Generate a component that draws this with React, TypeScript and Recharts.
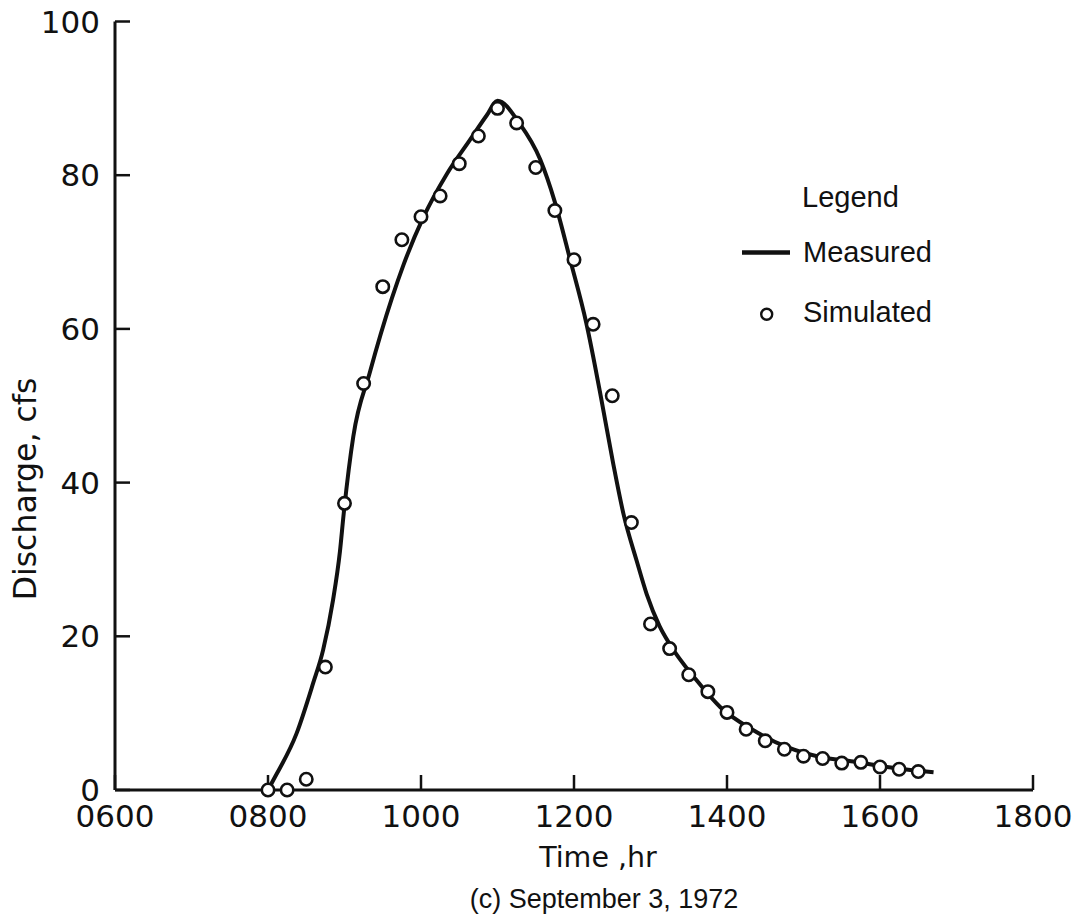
import React from 'react';
import { ComposedChart, Line, Scatter, XAxis, YAxis, Legend, Label } from 'recharts';

// Measured hydrograph (hours, cfs)
const measuredTime = [8.0, 8.07, 8.375, 8.59, 8.72, 8.85, 8.94, 8.99, 9.115, 9.33, 9.62, 9.77, 10.03, 10.34, 10.64, 10.86, 11.0, 11.29, 11.56, 11.75, 11.95, 12.16, 12.36, 12.51, 12.645, 12.82, 12.95, 13.12, 13.25, 13.6, 13.91, 14.34, 14.78, 15.22, 15.65, 16.09, 16.7];
const measuredQ = [0, 1.3, 7.4, 13.9, 18.2, 24.7, 31.0, 36.0, 46.0, 54.3, 64.0, 68.3, 74.5, 80.2, 84.6, 87.8, 89.7, 86.7, 82.0, 76.5, 69.0, 60.8, 50.7, 42.6, 36.0, 29.8, 25.5, 21.3, 19.0, 14.3, 10.8, 7.8, 5.6, 4.3, 3.7, 3.0, 2.3];

// Simulated hydrograph, every 15 minutes
const simulatedTime = [8.0, 8.25, 8.5, 8.75, 9.0, 9.25, 9.5, 9.75, 10.0, 10.25, 10.5, 10.75, 11.0, 11.25, 11.5, 11.75, 12.0, 12.25, 12.5, 12.75, 13.0, 13.25, 13.5, 13.75, 14.0, 14.25, 14.5, 14.75, 15.0, 15.25, 15.5, 15.75, 16.0, 16.25, 16.5];
const simulatedQ = [0, 0, 1.4, 16.0, 37.3, 52.9, 65.5, 71.6, 74.6, 77.3, 81.5, 85.1, 88.7, 86.8, 81.0, 75.4, 69.0, 60.6, 51.3, 34.8, 21.6, 18.4, 15.0, 12.8, 10.1, 7.9, 6.4, 5.3, 4.4, 4.1, 3.5, 3.6, 3.0, 2.7, 2.4];

const xTicks = [6, 8, 10, 12, 14, 16, 18];
const xTickLabels = ['0600', '0800', '1000', '1200', '1400', '1600', '1800'];
const yTicks = [0, 20, 40, 60, 80, 100];

const measuredData = measuredTime.map((t, i) => ({ t, q: measuredQ[i] }));
const simulatedData = simulatedTime.map((t, i) => ({ t, q: simulatedQ[i] }));

const INK = '#111';
const TICK_FONT = '"DejaVu Sans", sans-serif';
const TEXT_FONT = '"Liberation Sans", Arial, sans-serif';

const SimCircle = (props: any) => {
  const { cx, cy } = props;
  if (cx == null || cy == null) return null;
  return <circle cx={cx} cy={cy} r={6.2} fill="#fff" stroke={INK} strokeWidth={2.6} />;
};

const renderLegend = (props: any) => {
  const payload = props.payload || [];
  const lineItem = payload.find((p: any) => p.type === 'line') || { value: 'Measured' };
  const scatItem = payload.find((p: any) => p.type !== 'line') || { value: 'Simulated' };
  return (
    <svg width={260} height={170} style={{ display: 'block' }}>
      <text x={67} y={37} fontFamily={TEXT_FONT} fontSize={29} fill={INK}>Legend</text>
      <line x1={7} x2={55} y1={82.5} y2={82.5} stroke={INK} strokeWidth={4.5} />
      <text x={68} y={92} fontFamily={TEXT_FONT} fontSize={29} fill={INK}>{lineItem.value}</text>
      <circle cx={31.7} cy={144.3} r={5.5} fill="#fff" stroke={INK} strokeWidth={2.4} />
      <text x={68} y={152} fontFamily={TEXT_FONT} fontSize={29} fill={INK}>{scatItem.value}</text>
    </svg>
  );
};

export default function App() {
  return (
    <div style={{ position: 'absolute', left: 0, top: 0, width: 1091, height: 919, background: '#fff' }}>
      <ComposedChart width={1091} height={919} margin={{ top: 21.5, right: 58, bottom: 73, left: 0 }}>
        <XAxis
          type="number"
          dataKey="t"
          domain={[6, 18]}
          ticks={xTicks}
          allowDataOverflow
          height={56}
          tickFormatter={(v: number) => xTickLabels[xTicks.indexOf(v)] ?? String(v)}
          axisLine={{ stroke: INK, strokeWidth: 3 }}
          tickLine={{ stroke: INK, strokeWidth: 2.5 }}
          tickSize={-15}
          tickMargin={30}
          tick={{ fill: INK, fontSize: 31, fontFamily: TICK_FONT }}
        >
          <Label
            content={() => (
              <g>
                <text x={598} y={867} textAnchor="middle" fontFamily={TICK_FONT} fontSize={28.5} fill={INK}>Time ,hr</text>
                <text x={604} y={908} textAnchor="middle" fontFamily={TEXT_FONT} fontSize={27} fill={INK}>(c) September 3, 1972</text>
              </g>
            )}
          />
        </XAxis>
        <YAxis
          type="number"
          dataKey="q"
          domain={[0, 100]}
          ticks={yTicks}
          width={115}
          axisLine={{ stroke: INK, strokeWidth: 3 }}
          tickLine={{ stroke: INK, strokeWidth: 2.5 }}
          tickSize={-15}
          tickMargin={30}
          tick={{ fill: INK, fontSize: 31, fontFamily: TICK_FONT }}
        >
          <Label
            content={() => (
              <text
                x={25}
                y={489}
                transform="rotate(-90 25 489)"
                textAnchor="middle"
                dominantBaseline="central"
                fontFamily={TICK_FONT}
                fontSize={31.5}
                fill={INK}
              >
                Discharge, cfs
              </text>
            )}
          />
        </YAxis>
        <Legend
          layout="vertical"
          align="center"
          verticalAlign="middle"
          content={renderLegend}
          wrapperStyle={{ left: 735, top: 170, width: 260, height: 170 }}
        />
        <Line
          data={measuredData}
          dataKey="q"
          name="Measured"
          type="monotone"
          stroke={INK}
          strokeWidth={4}
          dot={false}
          activeDot={false}
          legendType="line"
          isAnimationActive={false}
        />
        <Scatter
          data={simulatedData}
          dataKey="q"
          name="Simulated"
          shape={SimCircle}
          legendType="circle"
          isAnimationActive={false}
        />
      </ComposedChart>
    </div>
  );
}
